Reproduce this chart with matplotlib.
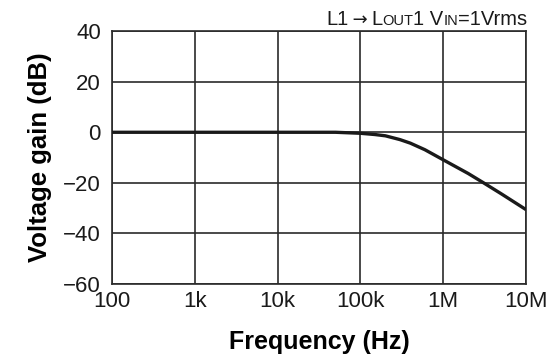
import matplotlib.pyplot as plt
import numpy as np

plt.rcParams['font.family'] = ['Liberation Sans', 'DejaVu Sans']

# frequency response
freq = [100, 1e3, 1e4, 5e4, 1e5, 1.5e5, 2e5, 3e5, 4e5, 6e5, 1e6, 2e6, 3e6, 5e6, 1e7]
gain = [0, 0, 0, 0, -0.4, -0.9, -1.4, -2.9, -4.3, -6.9, -10.9, -16.3, -19.8, -24.3, -30.6]

xticks = [100, 1e3, 1e4, 1e5, 1e6, 1e7]
xticklabels = ['100', '1k', '10k', '100k', '1M', '10M']
yticks = [-60, -40, -20, 0, 20, 40]

fig = plt.figure(figsize=(5.52, 3.62), dpi=100)
ax = fig.add_axes([0.203, 0.2155, 0.750, 0.6985])

ax.semilogx(freq, gain, color='#1a1a1a', lw=2.4, solid_capstyle='butt', zorder=3)

ax.set_xlim(100, 1e7)
ax.set_ylim(-60, 40)
ax.set_xticks(xticks)
ax.set_xticklabels(xticklabels)
ax.minorticks_off()
ax.set_yticks(yticks)
ax.set_yticklabels([str(v).replace('-', '\u2212') for v in yticks])
ax.tick_params(length=0, labelsize=16, colors='#1a1a1a')
ax.tick_params(axis='y', pad=8)
ax.tick_params(axis='x', pad=5)
ax.grid(True, color='#2a2a2a', lw=1.2)
for s in ax.spines.values():
    s.set_color('#2a2a2a')
    s.set_linewidth(1.2)

ax.set_xlabel('Frequency (Hz)', fontsize=18, fontweight='bold', labelpad=13)
ax.set_ylabel('Voltage gain (dB)', fontsize=18.5, fontweight='bold', labelpad=8)

# condition text with small caps, laid out piece by piece, right-aligned
pieces = [('L1', 14.5, 'Liberation Sans'), ('\u2009\u2192\u2009', 13, 'DejaVu Sans'),
          ('L', 14.5, 'Liberation Sans'), ('OUT', 10.5, 'Liberation Sans'),
          ('1 V', 14.5, 'Liberation Sans'), ('IN', 10.5, 'Liberation Sans'),
          ('=1Vrms', 14.5, 'Liberation Sans')]
renderer = fig.canvas.get_renderer()
texts = []
x = 0
for s, size, fam in pieces:
    t = fig.text(x, 0, s, fontsize=size, family=fam, ha='left', va='baseline',
                 color='#1a1a1a')
    w = t.get_window_extent(renderer).width / fig.bbox.width
    texts.append((t, x))
    x += w
right = 0.955
base = 1 - 25 / 362
for t, x0 in texts:
    t.set_position((right - x + x0, base))

fig.savefig('out.png', dpi=100)
